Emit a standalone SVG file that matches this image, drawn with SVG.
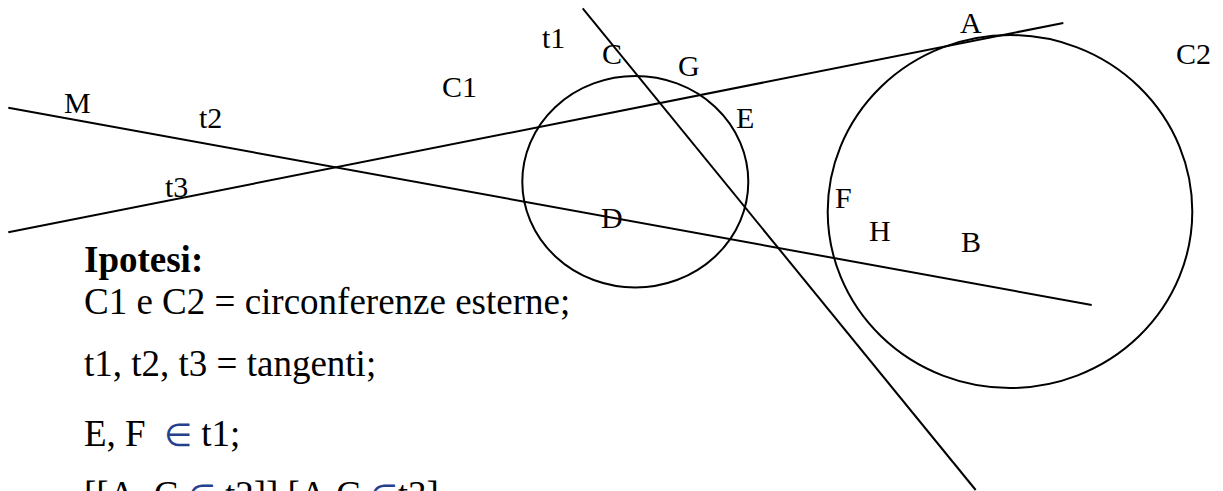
<svg xmlns="http://www.w3.org/2000/svg" width="1223" height="491" viewBox="0 0 1223 491">
<style>
.ln{stroke:#000;stroke-width:2;fill:none}
.lb{font-family:'Liberation Serif','Times New Roman',Tinos,Times,'Nimbus Roman','DejaVu Serif',serif;font-size:30px;fill:#000}
.tx{font-family:'Liberation Serif','Times New Roman',Tinos,Times,'Nimbus Roman','DejaVu Serif',serif;font-size:37px;fill:#000}
.b{font-weight:bold}
.el{fill:#24408e;font-family:'DejaVu Sans','Noto Sans',sans-serif;font-size:32px}
</style>
<rect width="1223" height="491" fill="#fff"/>
<g id="connectors">
<line id="t1" class="ln" x1="582.7" y1="8.3" x2="975.7" y2="490"/>
<line id="t2" class="ln" x1="8.3" y1="107.7" x2="1091.7" y2="305"/>
<line id="t3" class="ln" x1="8.3" y1="232.3" x2="1063.3" y2="23"/>
</g>
<g id="C1"><ellipse class="ln" cx="635.3" cy="181.7" rx="113" ry="105.7"/></g>
<g id="C2"><ellipse class="ln" cx="1010" cy="211.5" rx="182.3" ry="176.5"/></g>
<g id="labels">
<text class="lb" x="542" y="48">t1</text>
<text class="lb" x="602" y="64">C</text>
<text class="lb" x="678" y="76">G</text>
<text class="lb" x="736" y="128">E</text>
<text class="lb" x="64" y="113">M</text>
<text class="lb" x="199" y="128">t2</text>
<text class="lb" x="165" y="197">t3</text>
<text class="lb" x="442" y="97">C1</text>
<text class="lb" x="960" y="33">A</text>
<text class="lb" x="1176" y="64">C2</text>
<text class="lb" x="835" y="208">F</text>
<text class="lb" x="869" y="241">H</text>
<text class="lb" x="961" y="252">B</text>
<text class="lb" x="601" y="228">D</text>
</g>
<g id="ipotesi">
<text class="tx b" x="84" y="272">Ipotesi:</text>
<text class="tx" x="84" y="314">C1 e C2 = circonferenze esterne;</text>
<text class="tx" x="84" y="376">t1, t2, t3 = tangenti;</text>
<text class="tx" x="84" y="446" xml:space="preserve">E, F  <tspan class="el">∈</tspan> t1;</text>
<text class="tx" x="84" y="507" xml:space="preserve">[[A, C <tspan class="el">∈</tspan> t2]] [A,C <tspan class="el">∈</tspan>t3]</text>
</g>
</svg>
